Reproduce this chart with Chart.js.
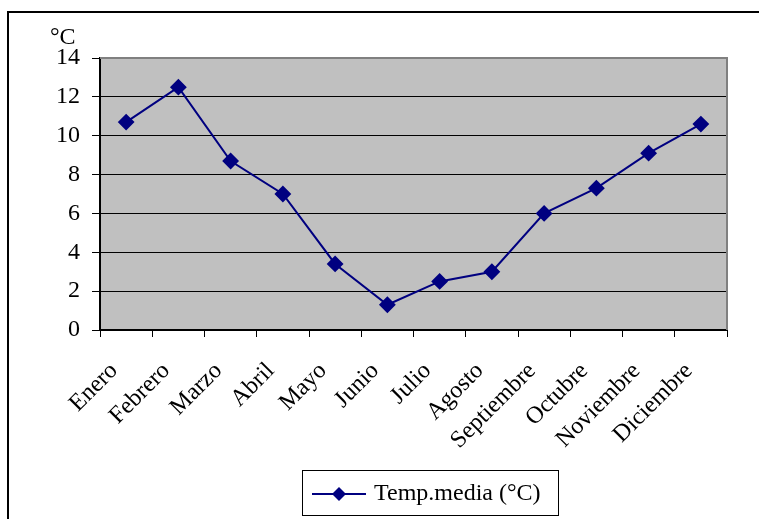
<!doctype html>
<html lang="es">
<head>
<meta charset="utf-8">
<title>Temperatura media</title>
<script src="https://cdn.jsdelivr.net/npm/chart.js@4.4.0/dist/chart.umd.min.js"></script>
<style>
  body { margin: 0; background: #fff; }
  canvas { display: block; }
</style>
</head>
<body>
<canvas id="myChart" width="759" height="519"></canvas>
<script>
// data
const meses = ["Enero", "Febrero", "Marzo", "Abril", "Mayo", "Junio", "Julio",
  "Agosto", "Septiembre", "Octubre", "Noviembre", "Diciembre"];
const tempMedia = [10.7, 12.5, 8.7, 7.0, 3.4, 1.3, 2.5, 3.0, 6.0, 7.3, 9.1, 10.6];
const serieLabel = "Temp.media (°C)";
const yUnit = "°C";
const yMin = 0, yMax = 14, yStep = 2;

const serif = '"Liberation Serif", "Times New Roman", serif';
const navy = "#000080";

// background, frame, unit label and the excel-like legend
const decor = {
  id: "decor",
  beforeDraw(chart) {
    const { ctx, chartArea: a } = chart;
    ctx.save();
    ctx.fillStyle = "#fff";
    ctx.fillRect(0, 0, chart.width, chart.height);
    ctx.fillStyle = "#c0c0c0";
    ctx.fillRect(a.left, a.top, a.right - a.left, a.bottom - a.top);
    ctx.restore();
  },
  afterDraw(chart) {
    const { ctx, chartArea: a } = chart;
    ctx.save();
    // outer frame (runs off the right and bottom)
    ctx.strokeStyle = "#000";
    ctx.lineWidth = 2;
    ctx.strokeRect(8, 12, 800, 600);

    // plot area top / right edge
    ctx.strokeStyle = "#808080";
    ctx.lineWidth = 2;
    ctx.beginPath();
    ctx.moveTo(a.left, a.top);
    ctx.lineTo(a.right, a.top);
    ctx.lineTo(a.right, a.bottom);
    ctx.stroke();

    // unit
    ctx.fillStyle = "#000";
    ctx.font = "24px " + serif;
    ctx.textBaseline = "alphabetic";
    ctx.textAlign = "left";
    ctx.fillText(yUnit, 50, 44);

    // legend
    ctx.strokeStyle = "#000";
    ctx.lineWidth = 1;
    ctx.strokeRect(302.5, 470.5, 256, 45);
    ctx.strokeStyle = navy;
    ctx.lineWidth = 2;
    ctx.beginPath();
    ctx.moveTo(312, 494);
    ctx.lineTo(366, 494);
    ctx.stroke();
    ctx.fillStyle = navy;
    ctx.beginPath();
    ctx.moveTo(339, 487);
    ctx.lineTo(346, 494);
    ctx.lineTo(339, 501);
    ctx.lineTo(332, 494);
    ctx.closePath();
    ctx.fill();
    ctx.fillStyle = "#000";
    ctx.textBaseline = "middle";
    ctx.fillText(chart.data.datasets[0].label, 374, 494);
    ctx.restore();
  }
};

new Chart(document.getElementById("myChart"), {
  type: "line",
  data: {
    labels: meses,
    datasets: [{
      label: serieLabel,
      data: tempMedia,
      borderColor: navy,
      backgroundColor: navy,
      borderWidth: 2,
      pointStyle: "rectRot",
      pointRadius: 7,
      pointHoverRadius: 7,
      tension: 0
    }]
  },
  options: {
    responsive: false,
    animation: false,
    layout: { padding: { left: 0, top: 58, right: 32, bottom: 0 } },
    plugins: {
      legend: { display: false },
      tooltip: { enabled: false }
    },
    scales: {
      x: {
        offset: true,
        grid: {
          offset: true,
          drawOnChartArea: false,
          color: "#000",
          tickLength: 7
        },
        border: { display: true, color: "#000", width: 2 },
        ticks: {
          color: "#000",
          font: { family: serif, size: 24 },
          minRotation: 45,
          maxRotation: 45,
          padding: 20,
          labelOffset: -12,
          autoSkip: false
        },
        afterFit(scale) { scale.height = 189; }
      },
      y: {
        min: yMin,
        max: yMax,
        grid: {
          color: "#000",
          lineWidth: 1,
          tickLength: 8
        },
        border: { display: true, color: "#000", width: 2 },
        ticks: {
          stepSize: yStep,
          color: "#000",
          font: { family: serif, size: 24 },
          padding: 12
        },
        afterFit(scale) { scale.width = 100; }
      }
    }
  },
  plugins: [decor]
});
</script>
</body>
</html>
